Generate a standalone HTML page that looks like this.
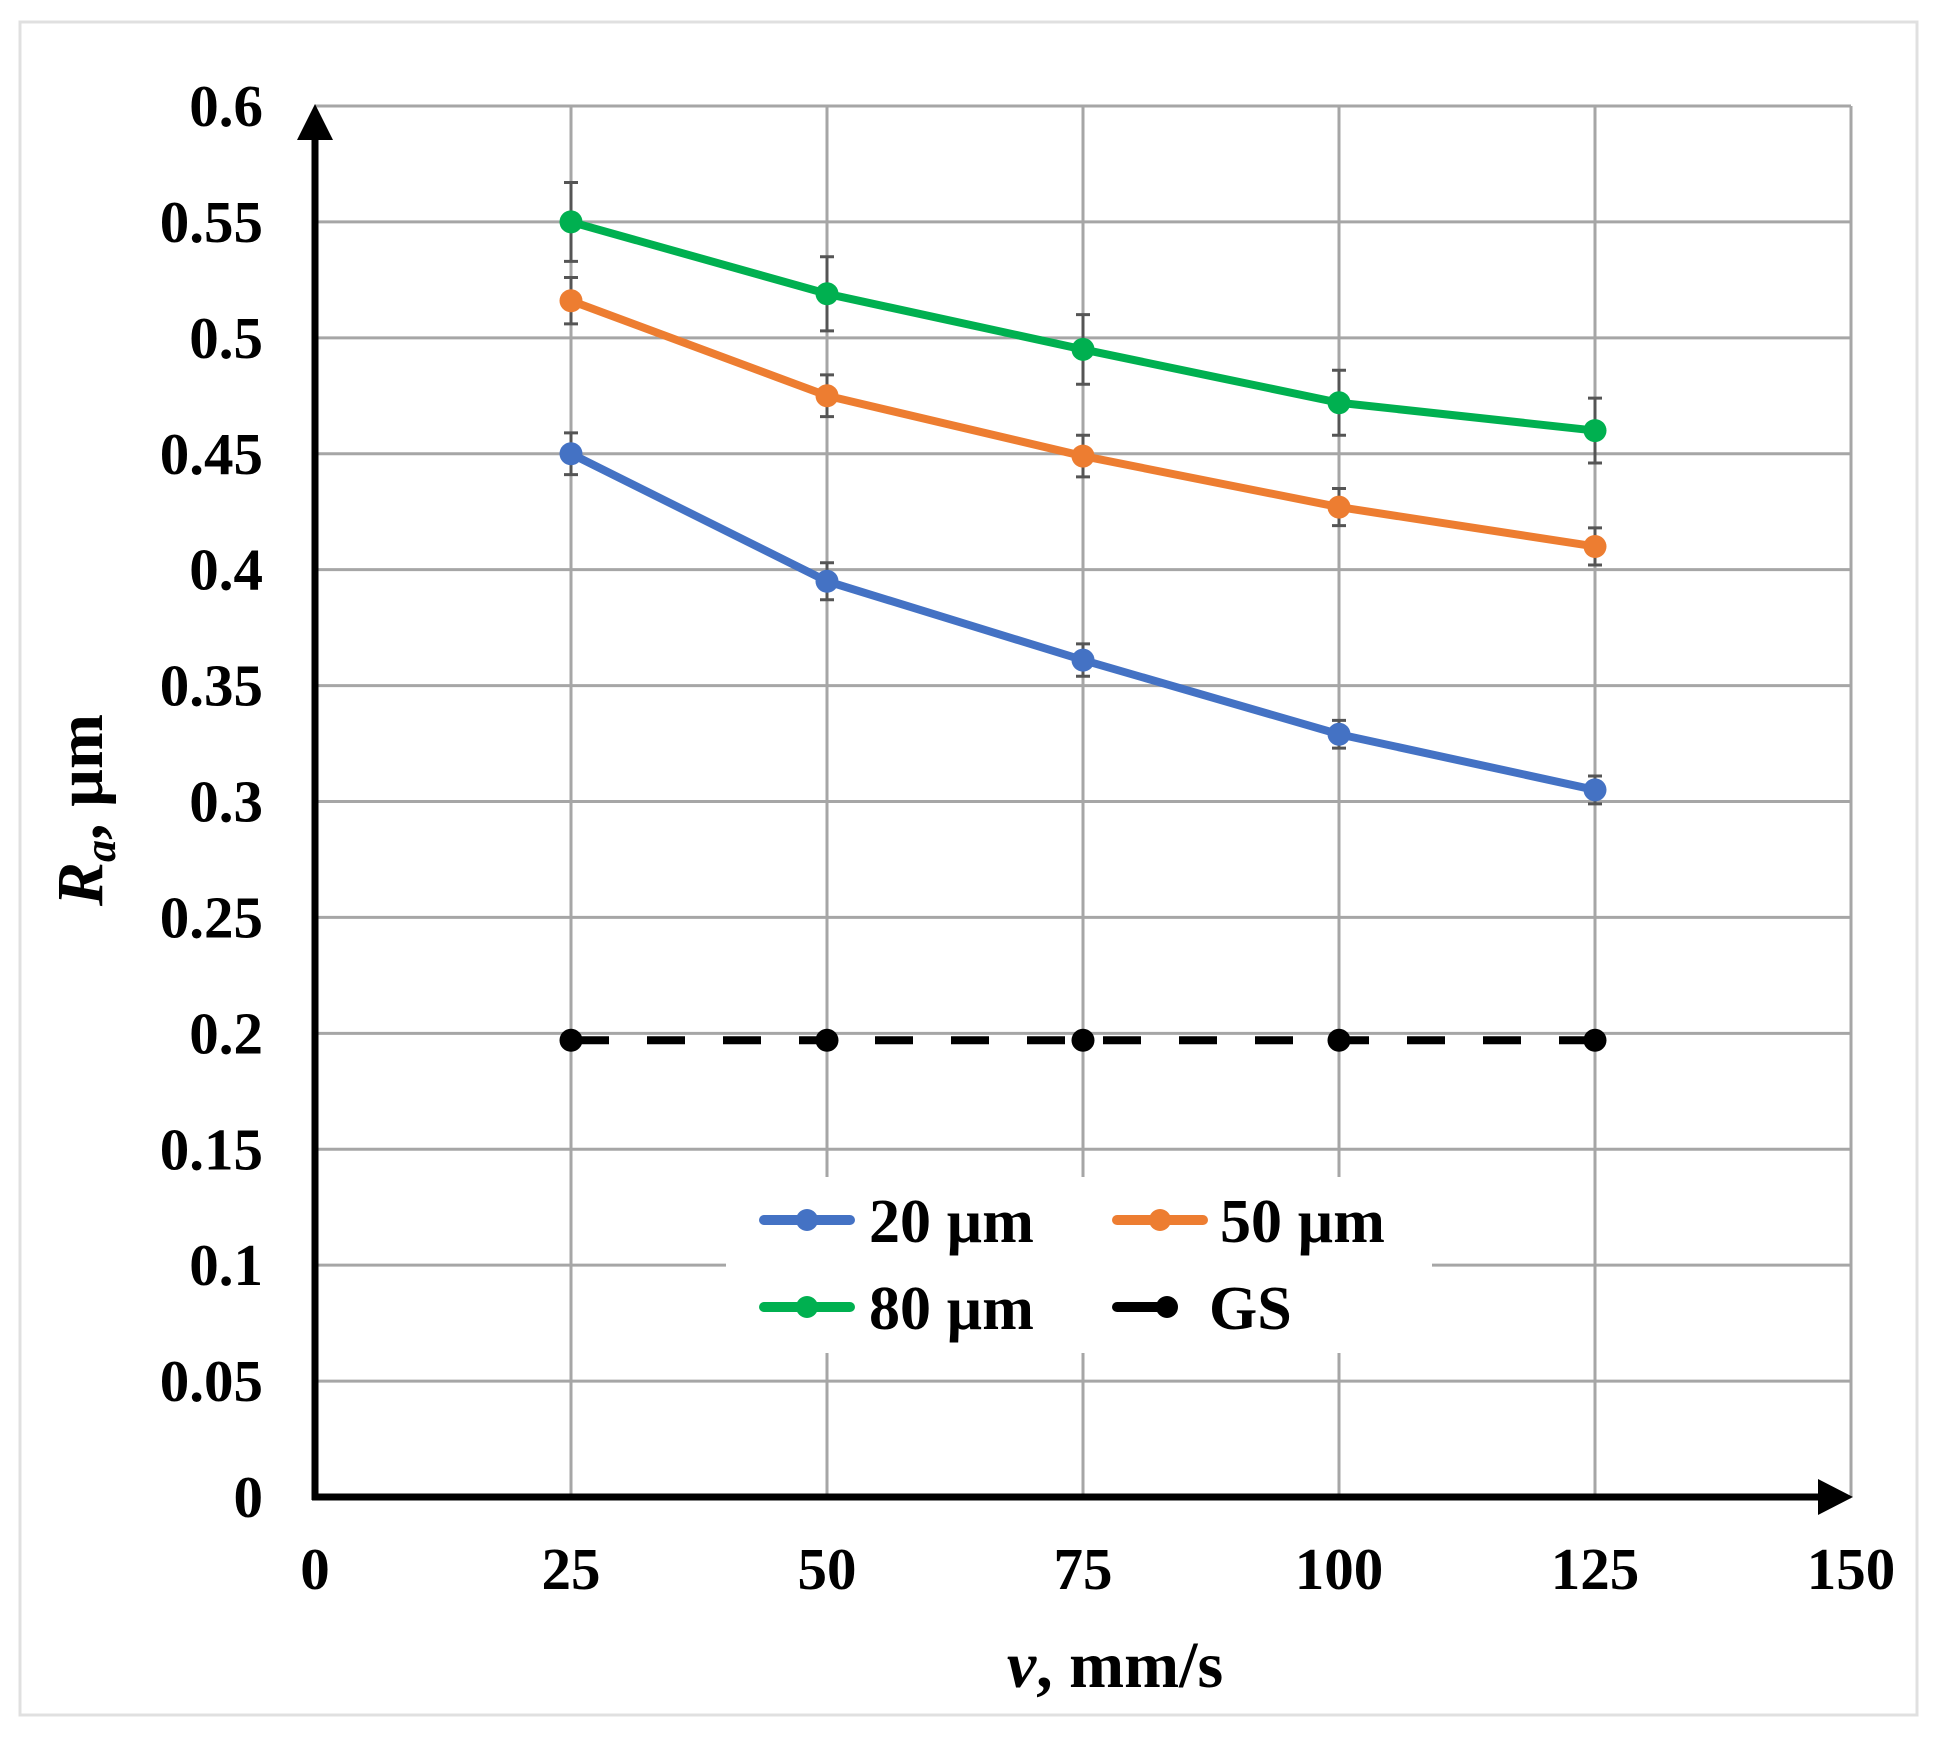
<!DOCTYPE html>
<html><head><meta charset="utf-8"><style>
html,body{margin:0;padding:0;background:#fff;}
svg text{font-family:"Liberation Serif",serif;font-weight:bold;}
</style></head><body>
<svg id="chart" width="1935" height="1742" xmlns="http://www.w3.org/2000/svg">
<rect x="20" y="22" width="1897" height="1693" fill="#fff" stroke="#e0e0e0" stroke-width="3"/>
<g id="grid"></g>
<g id="legend-bg-g"><rect x="726" y="1177" width="706" height="176" fill="#fff"/></g>
<g id="series"></g>
<g id="axes">
<line x1="312" y1="1497" x2="1825" y2="1497" stroke="#000" stroke-width="7"/>
<polygon points="1853,1497 1818,1479 1818,1515" fill="#000"/>
<line x1="315" y1="1500" x2="315" y2="130" stroke="#000" stroke-width="7"/>
<polygon points="315,104 297,140 333,140" fill="#000"/>
</g>
<g id="ticks"></g>
<text x="1115" y="1687" font-size="66" text-anchor="middle"><tspan font-style="italic">v</tspan>, mm/s</text>
<text transform="translate(102,810) rotate(-90)" font-size="66" text-anchor="middle"><tspan font-style="italic">R</tspan><tspan font-style="italic" font-size="44" dy="13">a</tspan><tspan dy="-13">, µm</tspan></text>
<g id="legend"></g>
</svg>
<script>
const xCats=[25,50,75,100,125];
const xTicks=[0,25,50,75,100,125,150];
const yTicks=[0,0.05,0.1,0.15,0.2,0.25,0.3,0.35,0.4,0.45,0.5,0.55,0.6];
const yTickLabels=["0","0.05","0.1","0.15","0.2","0.25","0.3","0.35","0.4","0.45","0.5","0.55","0.6"];
const s20=[0.450,0.395,0.361,0.329,0.305];
const e20=[0.009,0.008,0.007,0.006,0.006];
const s50=[0.516,0.475,0.449,0.427,0.410];
const e50=[0.010,0.009,0.009,0.008,0.008];
const s80=[0.550,0.519,0.495,0.472,0.460];
const e80=[0.017,0.016,0.015,0.014,0.014];
const sGS=[0.197,0.197,0.197,0.197,0.197];
const NS="http://www.w3.org/2000/svg";
const X=v=>315+(v/150)*1536;
const Y=v=>1497-(v/0.6)*1391;
function mk(tag,attrs,parent){const e=document.createElementNS(NS,tag);for(const k in attrs)e.setAttribute(k,attrs[k]);parent.appendChild(e);return e;}
const grid=document.getElementById('grid'),ticks=document.getElementById('ticks'),series=document.getElementById('series'),legend=document.getElementById('legend');
yTicks.forEach((v,i)=>{
  const l=mk('line',{x1:315,x2:1851,y1:Y(v),y2:Y(v),stroke:'#a6a6a6','stroke-width':3},grid);
  
  
  const t=mk('text',{x:263,y:Y(v)+20,'font-size':59,'text-anchor':'end'},ticks);
  t.textContent=yTickLabels[i];
  
  
});
xTicks.forEach(v=>{
  if(v>0){const l=mk('line',{x1:X(v),x2:X(v),y1:Y(0.6),y2:1497,stroke:'#a6a6a6','stroke-width':3},grid);
  
  }
  const t=mk('text',{x:X(v),y:1589,'font-size':59,'text-anchor':'middle'},ticks);
  t.textContent=String(v);
  
  
});
function drawSeries(vals,errs,color,name,dash){
  const g=mk('g',{},series);
  
  
  if(errs){vals.forEach((v,i)=>{
    const x=X(xCats[i]);
    const b=mk('path',{d:`M${x},${Y(v-errs[i])}V${Y(v+errs[i])}M${x-7},${Y(v-errs[i])}h14M${x-7},${Y(v+errs[i])}h14`,stroke:'#555','stroke-width':3,fill:'none'},g);
    
    
  });}
  const pts=vals.map((v,i)=>X(xCats[i])+','+Y(v)).join(' ');
  const attrs={points:pts,fill:'none',stroke:color,'stroke-width':8,'stroke-linejoin':'round'};
  if(dash)attrs['stroke-dasharray']='38,38';
  const pl=mk('polyline',attrs,g);
  
  
  vals.forEach((v,i)=>{
    const c=mk('circle',{cx:X(xCats[i]),cy:Y(v),r:11.5,fill:color},g);
    
    
  });
}
drawSeries(sGS,null,'#000','series-gs',true);
drawSeries(s20,e20,'#4472c4','series-20um');
drawSeries(s50,e50,'#ed7d31','series-50um');
drawSeries(s80,e80,'#00b050','series-80um');
const leg=[[764,1220,'#4472c4','20 µm',869],[1117,1220,'#ed7d31','50 µm',1220],[764,1307,'#00b050','80 µm',869],[1117,1307,'#000','GS',1209]];
leg.forEach(([x,y,c,label,tx],i)=>{
  const g=mk('g',{},legend);
  
  
  const len=i===3?43:86;
  mk('line',{x1:x,x2:x+len,y1:y,y2:y,stroke:c,'stroke-width':10,'stroke-linecap':'round'},g);
  mk('circle',{cx:i===3?x+50:x+43,cy:y,r:11,fill:c},g);
  const t=mk('text',{x:tx,y:y+22,'font-size':62},g);
  t.textContent=label;
});
</script>
</body></html>
